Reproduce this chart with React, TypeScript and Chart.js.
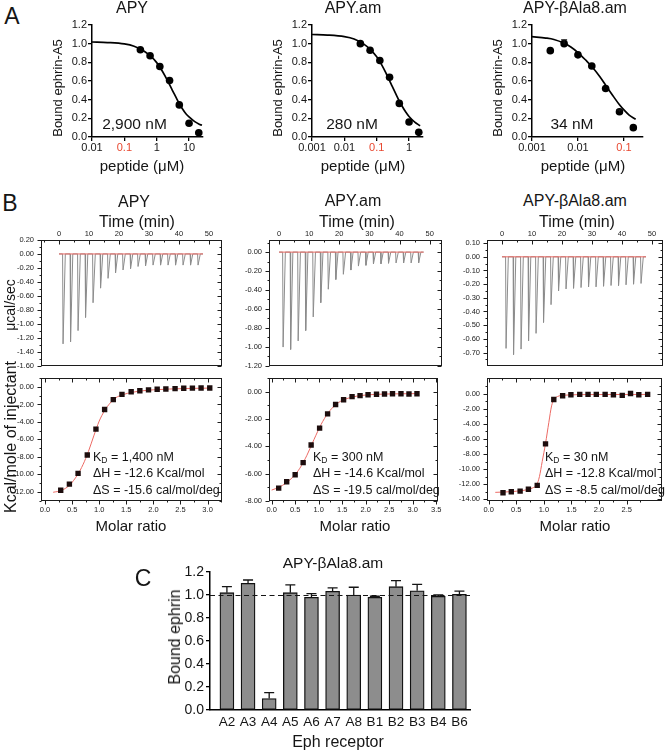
import React, { useEffect, useRef } from 'react';
import { Chart, registerables } from 'chart.js';

Chart.register(...registerables);

const FONT = "'Liberation Sans', Arial, Helvetica, sans-serif";
const INK = '#151515';
const RED_TICK = '#e8472f';
const FIT_RED = '#ec6a64';

// ================= Panel A : competition binding =================
const A_YTICKS = [0, 0.2, 0.4, 0.6, 0.8, 1.0, 1.2];

const APY_CONC = [0.3125, 0.625, 1.25, 2.5, 5, 10, 20];
const APY_BOUND = [0.935, 0.87, 0.755, 0.605, 0.344, 0.147, 0.046];
const APY_FIT_X = [0.01, 0.03, 0.1, 0.2, 0.4, 0.625, 1, 1.5, 2, 2.5, 3, 4, 5, 6, 8, 10, 15, 20, 25];
const APY_FIT_Y = [1.018, 1.012, 0.997, 0.973, 0.922, 0.871, 0.797, 0.705, 0.626, 0.561, 0.505, 0.422, 0.357, 0.311, 0.25, 0.215, 0.165, 0.14, 0.125];
const APY_XTICKS = [0.01, 0.1, 1, 10];
const APY_XRANGE = [0.01, 27];

const APYAM_CONC = [0.03125, 0.0625, 0.125, 0.25, 0.5, 1, 2];
const APYAM_BOUND = [1.0, 0.93, 0.82, 0.64, 0.36, 0.16, 0.05];
const APYAM_FIT_X = [0.001, 0.003, 0.01, 0.02, 0.04, 0.0625, 0.1, 0.15, 0.2, 0.25, 0.3, 0.4, 0.5, 0.6, 0.8, 1.0, 1.5, 2.2];
const APYAM_FIT_Y = [1.098, 1.092, 1.075, 1.05, 0.995, 0.94, 0.86, 0.76, 0.675, 0.605, 0.545, 0.455, 0.385, 0.335, 0.265, 0.22, 0.16, 0.12];
const APYAM_XTICKS = [0.001, 0.01, 0.1, 1];
const APYAM_XRANGE = [0.001, 2.7];

const BALA_CONC = [0.0025, 0.005, 0.01, 0.02, 0.04, 0.08, 0.16];
const BALA_BOUND = [0.925, 1.0, 0.88, 0.76, 0.52, 0.27, 0.10];
const BALA_ERR = [0, 0.04, 0, 0, 0, 0.02, 0];
const BALA_FIT_X = [0.001, 0.002, 0.003, 0.005, 0.007, 0.01, 0.015, 0.02, 0.03, 0.04, 0.06, 0.08, 0.1, 0.13, 0.18];
const BALA_FIT_Y = [1.075, 1.06, 1.045, 1.005, 0.965, 0.905, 0.82, 0.755, 0.645, 0.555, 0.43, 0.345, 0.29, 0.235, 0.19];
const BALA_XTICKS = [0.001, 0.01, 0.1];
const BALA_XRANGE = [0.001, 0.26];

// ================= Panel B : ITC =================
const TIME_TICKS = [0, 10, 20, 30, 40, 50];
const INJ_TIMES = [1.2, 3.7, 6.2, 8.7, 11.2, 13.7, 16.2, 18.7, 21.2, 23.7, 26.2, 28.7, 31.2, 33.7, 36.2, 38.7, 41.2, 43.7, 46.2];
const BASELINE_T = [0, 48];

const APY_TIPS = [-1.29, -1.26, -1.10, -0.91, -0.70, -0.49, -0.35, -0.27, -0.23, -0.21, -0.18, -0.17, -0.16, -0.16, -0.16, -0.16, -0.16, -0.16, -0.16];
const APYAM_TIPS = [-1.005, -1.03, -0.94, -0.83, -0.686, -0.535, -0.393, -0.29, -0.235, -0.19, -0.148, -0.14, -0.124, -0.124, -0.118, -0.115, -0.115, -0.115, -0.114];
const BALA_TIPS = [-0.67, -0.715, -0.675, -0.615, -0.56, -0.48, -0.35, -0.25, -0.235, -0.23, -0.225, -0.22, -0.22, -0.215, -0.21, -0.21, -0.205, -0.2, -0.195];

const APY_THERMO_YTICKS = [0.2, 0, -0.2, -0.4, -0.6, -0.8, -1.0, -1.2, -1.4, -1.6];
const APYAM_THERMO_YTICKS = [0, -0.2, -0.4, -0.6, -0.8, -1.0, -1.2];
const BALA_THERMO_YTICKS = [0.1, 0, -0.1, -0.2, -0.3, -0.4, -0.5, -0.6, -0.7];

const APY_HEAT_YTICKS = [0, -2, -4, -6, -8, -10, -12];
const APYAM_HEAT_YTICKS = [0, -2, -4, -6, -8];
const BALA_HEAT_YTICKS = [0, -2, -4, -6, -8, -10, -12, -14];

const APY_MR_TICKS = [0, 0.5, 1.0, 1.5, 2.0, 2.5, 3.0];
const APYAM_MR_TICKS = [0, 0.5, 1.0, 1.5, 2.0, 2.5, 3.0, 3.5];
const BALA_MR_TICKS = [0, 0.5, 1.0, 1.5, 2.0, 2.5];

const APY_MR = [0.29, 0.45, 0.61, 0.78, 0.94, 1.10, 1.26, 1.42, 1.59, 1.75, 1.91, 2.07, 2.23, 2.40, 2.56, 2.72, 2.88, 3.04];
const APY_HEAT = [-11.82, -11.12, -9.89, -7.79, -4.82, -2.58, -1.45, -0.84, -0.54, -0.43, -0.33, -0.25, -0.22, -0.18, -0.14, -0.12, -0.11, -0.11];
const APY_HFIT_X = [0.15, 0.3, 0.45, 0.6, 0.7, 0.8, 0.9, 1.0, 1.1, 1.2, 1.3, 1.45, 1.6, 1.8, 2.0, 2.3, 2.6, 3.05];
const APY_HFIT_Y = [-12.05, -11.85, -11.25, -10.05, -8.9, -7.4, -5.6, -3.9, -2.7, -1.85, -1.25, -0.85, -0.62, -0.43, -0.32, -0.23, -0.17, -0.12];

const APYAM_MR = [0.15, 0.32, 0.50, 0.67, 0.84, 1.02, 1.19, 1.36, 1.53, 1.71, 1.88, 2.05, 2.23, 2.40, 2.57, 2.75, 2.92, 3.09];
const APYAM_HEAT = [-7.06, -6.59, -6.08, -5.19, -3.90, -2.66, -1.62, -0.93, -0.58, -0.35, -0.28, -0.21, -0.18, -0.16, -0.14, -0.14, -0.16, -0.14];
const APYAM_HFIT_X = [0.0, 0.15, 0.3, 0.45, 0.6, 0.75, 0.9, 1.05, 1.2, 1.35, 1.5, 1.7, 1.9, 2.2, 2.6, 3.1];
const APYAM_HFIT_Y = [-7.2, -7.0, -6.7, -6.25, -5.6, -4.65, -3.5, -2.4, -1.55, -0.98, -0.63, -0.4, -0.27, -0.19, -0.15, -0.13];

const BALA_MR = [0.26, 0.41, 0.57, 0.72, 0.88, 1.03, 1.18, 1.34, 1.49, 1.65, 1.80, 1.95, 2.11, 2.26, 2.42, 2.57, 2.72, 2.88];
const BALA_HEAT = [-13.15, -13.02, -12.94, -12.69, -12.18, -6.66, -0.76, -0.25, -0.13, -0.08, -0.08, -0.08, -0.08, -0.13, -0.21, 0.04, -0.13, -0.08];
const BALA_HFIT_X = [0.12, 0.3, 0.5, 0.7, 0.8, 0.87, 0.92, 0.97, 1.03, 1.09, 1.14, 1.19, 1.25, 1.4, 1.8, 2.9];
const BALA_HFIT_Y = [-13.1, -13.05, -12.95, -12.75, -12.5, -12.1, -11.0, -9.0, -6.6, -3.8, -1.6, -0.7, -0.35, -0.17, -0.1, -0.08];

// ================= Panel C : receptor selectivity =================
const RECEPTORS = ['A2', 'A3', 'A4', 'A5', 'A6', 'A7', 'A8', 'B1', 'B2', 'B3', 'B4', 'B6'];
const C_BOUND = [1.018, 1.099, 0.10, 1.018, 0.978, 1.03, 0.998, 0.978, 1.07, 1.035, 0.986, 1.004];
const C_ERR = [0.052, 0.029, 0.05, 0.067, 0.032, 0.03, 0.067, 0.009, 0.052, 0.055, 0.012, 0.028];
const C_YTICKS = [0, 0.2, 0.4, 0.6, 0.8, 1.0, 1.2];
const C_REF = 1.0;

// ================= helpers =================
const fixW = (w: number) => (s: any) => { s.width = w; };
const fixH = (h: number) => (s: any) => { s.height = h; };
const setTicks = (vals: number[]) => (s: any) => { s.ticks = vals.map((v) => ({ value: v })); };
const pts = (xs: number[], ys: number[]) => xs.map((x, i) => ({ x, y: ys[i] }));

function errPlugin(xs: number[], ys: number[], errs: number[], cap: number, lw: number) {
  return {
    id: 'errbars',
    afterDatasetsDraw(chart: any) {
      const { ctx } = chart;
      const sx = chart.scales.x, sy = chart.scales.y;
      ctx.save();
      ctx.strokeStyle = INK;
      ctx.lineWidth = lw;
      ctx.beginPath();
      xs.forEach((xv, i) => {
        if (!errs[i]) return;
        const px = sx.getPixelForValue(xv);
        const p0 = sy.getPixelForValue(ys[i]);
        const p1 = sy.getPixelForValue(ys[i] + errs[i]);
        ctx.moveTo(px, p0); ctx.lineTo(px, p1);
        ctx.moveTo(px - cap / 2, p1); ctx.lineTo(px + cap / 2, p1);
      });
      ctx.stroke();
      ctx.restore();
    },
  };
}

function refLinePlugin(value: number) {
  return {
    id: 'refline',
    afterDatasetsDraw(chart: any) {
      const { ctx, chartArea: a } = chart;
      const py = Math.round(chart.scales.y.getPixelForValue(value)) + 0.5;
      ctx.save();
      ctx.strokeStyle = INK;
      ctx.lineWidth = 1.2;
      ctx.setLineDash([5, 3.5]);
      ctx.beginPath();
      ctx.moveTo(a.left, py); ctx.lineTo(a.right, py);
      ctx.stroke();
      ctx.restore();
    },
  };
}

function framePlugin(xTicks: number[], yTicks: number[], xSide: 'top' | 'bottom') {
  return {
    id: 'frame',
    afterDraw(chart: any) {
      const { ctx, chartArea: a } = chart;
      const xs = chart.scales.x, ys = chart.scales.y;
      const L = Math.round(a.left) + 0.5, R = Math.round(a.right) - 0.5;
      const T = Math.round(a.top) + 0.5, B = Math.round(a.bottom) - 0.5;
      const withMinor = (vals: number[], lo: number, hi: number) => {
        const out: [number, number][] = [];
        for (let i = 0; i < vals.length; i++) {
          out.push([vals[i], 4]);
          if (i < vals.length - 1) out.push([(vals[i] + vals[i + 1]) / 2, 2]);
        }
        if (vals.length > 1) {
          const st = vals[1] - vals[0];
          out.push([vals[0] - st / 2, 2]);
          out.push([vals[vals.length - 1] + st / 2, 2]);
        }
        return out.filter(([v]) => v >= lo - 1e-9 && v <= hi + 1e-9);
      };
      ctx.save();
      ctx.strokeStyle = '#1c1c1c';
      ctx.lineWidth = 1;
      ctx.strokeRect(L, T, R - L, B - T);
      ctx.beginPath();
      for (const [v, len] of withMinor(yTicks, ys.min, ys.max)) {
        const p = Math.round(ys.getPixelForValue(v)) + 0.5;
        ctx.moveTo(L, p); ctx.lineTo(L - len, p);
        ctx.moveTo(R, p); ctx.lineTo(R - len, p);
      }
      for (const [v, len] of withMinor(xTicks, xs.min, xs.max)) {
        const p = Math.round(xs.getPixelForValue(v)) + 0.5;
        ctx.moveTo(p, T); ctx.lineTo(p, T + len);
        if (xSide === 'bottom') { ctx.moveTo(p, B); ctx.lineTo(p, B + len); }
      }
      ctx.stroke();
      ctx.restore();
    },
  };
}

const baseOpts = {
  animation: false,
  responsive: false,
  events: [],
  plugins: { legend: { display: false }, tooltip: { enabled: false }, title: { display: false } },
};

// ---------- Panel A config ----------
function bindingConfig(conc: number[], bound: number[], err: number[] | null, fitX: number[], fitY: number[], xr: number[], xticks: number[]) {
  const axisGrid = { drawOnChartArea: false, drawTicks: true, tickLength: 4, color: '#000', lineWidth: 1.3 };
  const axisBorder = { display: true, color: '#000', width: 1.5 };
  return {
    type: 'scatter',
    data: {
      datasets: [
        { type: 'line', data: pts(fitX, fitY), borderColor: '#000', borderWidth: 1.7, pointRadius: 0, cubicInterpolationMode: 'monotone', fill: false, order: 2 },
        { data: pts(conc, bound), backgroundColor: '#000', borderColor: '#000', pointRadius: 3.8, borderWidth: 0, order: 1 },
      ],
    },
    options: {
      ...baseOpts,
      layout: { padding: { top: 10, right: 7, left: 0, bottom: 0 } },
      scales: {
        x: {
          type: 'logarithmic', min: xr[0], max: xr[1],
          afterBuildTicks: setTicks(xticks), afterFit: fixH(28),
          grid: axisGrid, border: axisBorder,
          ticks: {
            font: { family: FONT, size: 11 }, padding: 0, maxRotation: 0, autoSkip: false,
            color: (c: any) => (c.tick && Math.abs(c.tick.value - 0.1) < 1e-9 ? RED_TICK : INK),
            callback: (v: any) => String(v),
          },
        },
        y: {
          type: 'linear', min: 0, max: 1.2,
          afterBuildTicks: setTicks(A_YTICKS), afterFit: fixW(42),
          grid: axisGrid, border: axisBorder,
          ticks: { font: { family: FONT, size: 11 }, color: INK, padding: 1, callback: (v: any) => Number(v).toFixed(1) },
        },
      },
    },
    plugins: err ? [errPlugin(conc, bound, err, 6, 1.2)] : [],
  };
}

// ---------- Panel B configs ----------
const SPIKE_DROP = 0.15;
const SPIKE_RECOVER = 0.9;
function thermoTrace(times: number[], tips: number[]) {
  const out: { x: number; y: number }[] = [{ x: BASELINE_T[0], y: 0 }];
  times.forEach((t, i) => {
    out.push({ x: t, y: 0 }, { x: t + SPIKE_DROP, y: tips[i] }, { x: t + SPIKE_RECOVER, y: 0 });
  });
  out.push({ x: BASELINE_T[1], y: 0 });
  return out;
}

const smallTick = { font: { family: FONT, size: 7.5 }, color: '#222', maxRotation: 0, autoSkip: false };

function thermoConfig(tips: number[], xr: number[], yr: number[], yTicks: number[], padR: number) {
  return {
    type: 'scatter',
    data: {
      datasets: [
        { type: 'line', data: pts(BASELINE_T, [0, 0]), borderColor: FIT_RED, borderWidth: 1, pointRadius: 0, order: 1 },
        { type: 'line', data: thermoTrace(INJ_TIMES, tips), borderColor: '#8c8c8c', borderWidth: 1, pointRadius: 0, tension: 0, order: 2 },
      ],
    },
    options: {
      ...baseOpts,
      layout: { padding: { top: 0, right: padR, left: 0, bottom: 6 } },
      scales: {
        x: {
          type: 'linear', position: 'top', min: xr[0], max: xr[1],
          afterBuildTicks: setTicks(TIME_TICKS), afterFit: fixH(14),
          grid: { display: false, drawTicks: false }, border: { display: false },
          ticks: { ...smallTick, padding: 1.5, callback: (v: any) => String(v) },
        },
        y: {
          type: 'linear', min: yr[0], max: yr[1],
          afterBuildTicks: setTicks(yTicks), afterFit: fixW(41),
          grid: { display: false, drawTicks: false }, border: { display: false },
          ticks: { ...smallTick, padding: 7, callback: (v: any) => Number(v).toFixed(2) },
        },
      },
    },
    plugins: [framePlugin(TIME_TICKS, yTicks, 'top')],
  };
}

function heatConfig(mr: number[], heat: number[], fx: number[], fy: number[], xr: number[], xTicks: number[], yr: number[], yTicks: number[], padR: number) {
  return {
    type: 'scatter',
    data: {
      datasets: [
        { type: 'line', data: pts(fx, fy), borderColor: FIT_RED, borderWidth: 1, pointRadius: 0, cubicInterpolationMode: 'monotone', order: 2 },
        { data: pts(mr, heat), pointStyle: 'rect', pointRadius: 3.8, backgroundColor: '#1d0d0d', borderColor: '#1d0d0d', borderWidth: 0, order: 1 },
      ],
    },
    options: {
      ...baseOpts,
      layout: { padding: { top: 5, right: padR, left: 0, bottom: 0 } },
      scales: {
        x: {
          type: 'linear', position: 'bottom', min: xr[0], max: xr[1],
          afterBuildTicks: setTicks(xTicks), afterFit: fixH(16),
          grid: { display: false, drawTicks: false }, border: { display: false },
          ticks: { ...smallTick, padding: 4.5, callback: (v: any) => Number(v).toFixed(1) },
        },
        y: {
          type: 'linear', min: yr[0], max: yr[1],
          afterBuildTicks: setTicks(yTicks), afterFit: fixW(41),
          grid: { display: false, drawTicks: false }, border: { display: false },
          ticks: { ...smallTick, padding: 7, callback: (v: any) => Number(v).toFixed(2) },
        },
      },
    },
    plugins: [framePlugin(xTicks, yTicks, 'bottom')],
  };
}

// ---------- Panel C config ----------
function selectivityConfig() {
  const idx = RECEPTORS.map((_, i) => i);
  return {
    type: 'bar',
    data: {
      datasets: [
        {
          data: pts(idx, C_BOUND), backgroundColor: '#8d8d8d', borderColor: '#111', borderWidth: 1.3,
          borderSkipped: false, barThickness: 14,
        },
      ],
    },
    options: {
      ...baseOpts,
      layout: { padding: { top: 11.7, right: 10, left: 0, bottom: 0 } },
      scales: {
        x: {
          type: 'linear', min: -0.8, max: 11.5, offset: false,
          afterBuildTicks: setTicks(idx), afterFit: fixH(30),
          grid: { display: false, drawTicks: false }, border: { display: true, color: '#000', width: 1.5 },
          ticks: { font: { family: FONT, size: 13.5 }, color: INK, padding: 4, maxRotation: 0, autoSkip: false, callback: (v: any) => RECEPTORS[Math.round(v)] ?? '' },
        },
        y: {
          type: 'linear', min: 0, max: 1.2,
          afterBuildTicks: setTicks(C_YTICKS), afterFit: fixW(60),
          grid: { drawOnChartArea: false, drawTicks: true, tickLength: 4, color: '#000', lineWidth: 1.3 },
          border: { display: true, color: '#000', width: 1.5 },
          ticks: { font: { family: FONT, size: 14 }, color: INK, padding: 2, callback: (v: any) => Number(v).toFixed(1) },
        },
      },
    },
    plugins: [refLinePlugin(C_REF), errPlugin(idx, C_BOUND, C_ERR, 10, 1.3)],
  };
}

// ================= components =================
function ChartBox({ box, make }: { box: number[]; make: () => any }) {
  const ref = useRef<HTMLCanvasElement>(null);
  useEffect(() => {
    const chart = new Chart(ref.current as HTMLCanvasElement, make());
    return () => chart.destroy();
  }, []);
  const [l, t, w, h] = box;
  return <canvas ref={ref} width={w} height={h} style={{ position: 'absolute', left: l, top: t, width: w, height: h }} />;
}

function T({ x, y, s, children, rot, left, color }: any) {
  const base = left ? 'translate(0,-50%)' : 'translate(-50%,-50%)';
  return (
    <div
      style={{
        position: 'absolute', left: x, top: y, fontSize: s, lineHeight: 1, whiteSpace: 'nowrap',
        fontFamily: FONT, color: color || INK, transform: rot ? base + ' rotate(-90deg)' : base,
      }}
    >
      {children}
    </div>
  );
}

function KD({ x, kd, dh, ds }: { x: number; kd: string; dh: string; ds: string }) {
  const s = 12.5;
  return (
    <>
      <T x={x} y={456.5} s={s} left>
        K<span style={{ fontSize: 8.5, position: 'relative', top: 2 }}>D</span> = {kd}
      </T>
      <T x={x} y={473.3} s={s} left>ΔH = {dh}</T>
      <T x={x} y={489.5} s={s} left>ΔS = {ds}</T>
    </>
  );
}

export default function App() {
  return (
    <div style={{ position: 'absolute', left: 0, top: 0, width: 666, height: 751, background: '#fff', overflow: 'hidden' }}>
      {/* Panel A */}
      <ChartBox box={[50, 15, 160, 150]} make={() => bindingConfig(APY_CONC, APY_BOUND, null, APY_FIT_X, APY_FIT_Y, APY_XRANGE, APY_XTICKS)} />
      <ChartBox box={[270, 15, 160, 150]} make={() => bindingConfig(APYAM_CONC, APYAM_BOUND, null, APYAM_FIT_X, APYAM_FIT_Y, APYAM_XRANGE, APYAM_XTICKS)} />
      <ChartBox box={[490, 15, 160, 150]} make={() => bindingConfig(BALA_CONC, BALA_BOUND, BALA_ERR, BALA_FIT_X, BALA_FIT_Y, BALA_XRANGE, BALA_XTICKS)} />

      {/* Panel B thermograms */}
      <ChartBox box={[0, 226, 226, 151]} make={() => thermoConfig(APY_TIPS, [-6, 54.33], [-1.6, 0.2], APY_THERMO_YTICKS, 4)} />
      <ChartBox box={[228, 226, 218, 151]} make={() => thermoConfig(APYAM_TIPS, [-3.33, 54.1], [-1.2, 0.128], APYAM_THERMO_YTICKS, 4)} />
      <ChartBox box={[446, 226, 220, 151]} make={() => thermoConfig(BALA_TIPS, [-5, 53.67], [-0.795, 0.123], BALA_THERMO_YTICKS, 3)} />

      {/* Panel B binding isotherms */}
      <ChartBox box={[0, 366, 226, 151]} make={() => heatConfig(APY_MR, APY_HEAT, APY_HFIT_X, APY_HFIT_Y, [-0.074, 3.266], APY_MR_TICKS, [-13.05, 1.09], APY_HEAT_YTICKS, 4)} />
      <ChartBox box={[228, 366, 218, 151]} make={() => heatConfig(APYAM_MR, APYAM_HEAT, APYAM_HFIT_X, APYAM_HFIT_Y, [-0.056, 3.535], APYAM_MR_TICKS, [-8, 1.05], APYAM_HEAT_YTICKS, 4)} />
      <ChartBox box={[446, 366, 220, 151]} make={() => heatConfig(BALA_MR, BALA_HEAT, BALA_HFIT_X, BALA_HFIT_Y, [-0.03, 3.14], BALA_MR_TICKS, [-14.25, 2.17], BALA_HEAT_YTICKS, 3)} />

      {/* Panel C */}
      <ChartBox box={[150, 560, 330, 180]} make={selectivityConfig} />

      {/* ----- text: Panel A ----- */}
      <T x={12} y={16} s={23}>A</T>
      <T x={132} y={8} s={16}>APY</T>
      <T x={353} y={8} s={16}>APY.am</T>
      <T x={575} y={8} s={16}>APY-βAla8.am</T>
      <T x={57} y={88} s={13} rot>Bound ephrin-A5</T>
      <T x={277} y={88} s={13} rot>Bound ephrin-A5</T>
      <T x={497} y={88} s={13} rot>Bound ephrin-A5</T>
      <T x={142} y={165} s={15}>peptide (μM)</T>
      <T x={363} y={165} s={15}>peptide (μM)</T>
      <T x={583} y={165} s={15}>peptide (μM)</T>
      <T x={134.5} y={124} s={15.5}>2,900 nM</T>
      <T x={352} y={124} s={15.5}>280 nM</T>
      <T x={572} y={124} s={15.5}>34 nM</T>

      {/* ----- text: Panel B ----- */}
      <T x={10} y={203} s={23}>B</T>
      <T x={134} y={202} s={16}>APY</T>
      <T x={353} y={201} s={16}>APY.am</T>
      <T x={575} y={201} s={16}>APY-βAla8.am</T>
      <T x={137} y={222} s={16}>Time (min)</T>
      <T x={357} y={222} s={16}>Time (min)</T>
      <T x={577} y={222} s={16}>Time (min)</T>
      <T x={10} y={305} s={14} rot>μcal/sec</T>
      <T x={11} y={437} s={16} rot>Kcal/mole of injectant</T>
      <KD x={93} kd="1,400 nM" dh="-12.6 Kcal/mol" ds="-15.6 cal/mol/deg" />
      <KD x={313} kd="300 nM" dh="-14.6 Kcal/mol" ds="-19.5 cal/mol/deg" />
      <KD x={545} kd="30 nM" dh="-12.8 Kcal/mol" ds="-8.5 cal/mol/deg" />
      <T x={131} y={525} s={15}>Molar ratio</T>
      <T x={355} y={525} s={15}>Molar ratio</T>
      <T x={575} y={525} s={15}>Molar ratio</T>

      {/* ----- text: Panel C ----- */}
      <T x={143} y={578} s={23}>C</T>
      <T x={333} y={563} s={15.5}>APY-βAla8.am</T>
      <T x={175} y={637} s={16} rot>Bound ephrin</T>
      <T x={338} y={742} s={16}>Eph receptor</T>
    </div>
  );
}
